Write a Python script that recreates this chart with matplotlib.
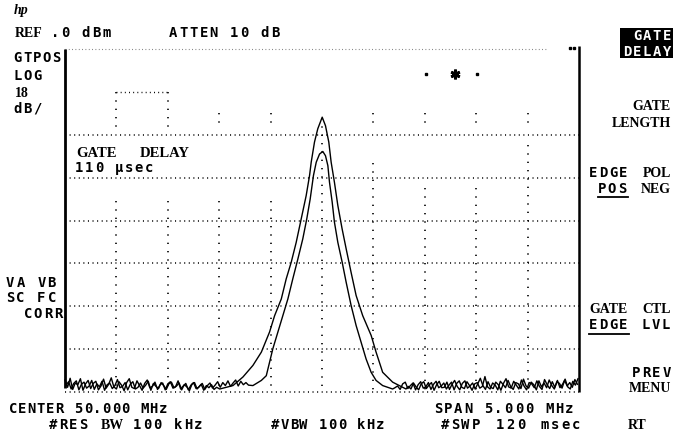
import numpy as np
import matplotlib
matplotlib.use("Agg")
import matplotlib.pyplot as plt
from matplotlib.lines import Line2D
from matplotlib.patches import Rectangle

center_mhz = 50.0
span_mhz = 5.0
ref_db = 0.0
bottom_db = -80.0

sweep_step = 0.025  # MHz between displayed sweep points in the noise floor

# outer (higher) trace
outer_left_start = 47.50
outer_left_db = [-77.2, -78.9, -76.8, -79.4, -77.9, -78.3, -76.9, -79.6, -78.1, -77.3,
                 -79.2, -78.0, -77.5, -79.5, -78.6, -77.0, -79.1, -78.2, -76.7, -78.8,
                 -79.3, -77.6, -78.4, -79.7, -77.8, -76.9, -78.9, -79.2, -77.4, -78.5,
                 -79.6, -78.0, -77.2, -79.0, -78.7, -77.7, -79.4, -78.3, -77.9, -79.5,
                 -78.1, -77.6, -79.1, -78.8, -77.4, -79.3, -78.6, -78.0, -79.5, -78.4,
                 -77.8, -79.2, -78.9, -78.2, -79.6, -78.5, -79.0, -78.3, -79.4, -78.9]
outer_peak_f = [49.005, 49.134, 49.231, 49.328, 49.410, 49.490, 49.539, 49.604, 49.652,
                49.701, 49.749, 49.798, 49.846, 49.879, 49.895, 49.927, 49.959, 50.002,
                50.034, 50.066, 50.089, 50.121, 50.154, 50.196, 50.235, 50.283, 50.332,
                50.396, 50.478, 50.526, 50.590, 50.687, 50.817]
outer_peak_db = [-79.3, -78.5, -76.5, -73.8, -70.7, -66.0, -62.2, -58.3, -53.6,
                 -49.7, -45.1, -39.6, -34.2, -29.5, -26.4, -21.7, -18.6, -15.9,
                 -17.9, -21.7, -26.4, -31.1, -36.5, -42.0, -46.6, -52.1, -57.5,
                 -62.2, -66.8, -70.7, -75.4, -77.7, -79.3]
outer_right_start = 50.84
outer_right_db = [-78.7, -79.3, -77.9, -78.8, -79.5, -78.1, -77.6, -79.2, -78.4, -77.8,
                  -79.6, -78.3, -77.5, -79.0, -78.9, -77.7, -79.4, -78.2, -77.3, -78.7,
                  -79.5, -78.0, -77.4, -79.1, -78.6, -77.9, -79.3, -78.1, -76.8, -78.5,
                  -79.4, -77.6, -78.9, -79.2, -77.7, -78.3, -79.6, -78.0, -76.9, -78.8,
                  -79.1, -77.5, -78.4, -79.3, -77.2, -78.6, -79.5, -77.8, -78.1, -79.0,
                  -77.4, -78.7, -79.4, -77.1, -78.3, -79.2, -77.6, -78.9, -77.3, -79.0,
                  -78.2, -77.0, -78.8, -79.3, -77.5, -78.4, -76.9]

# inner (lower) trace
inner_left_start = 47.51
inner_left_db = [-78.4, -77.6, -79.3, -78.0, -77.4, -79.5, -78.2, -77.7, -79.1, -78.6,
                 -77.3, -79.4, -78.1, -78.8, -77.5, -79.6, -78.3, -77.9, -79.2, -78.5,
                 -77.1, -79.0, -78.7, -77.8, -79.5, -78.2, -77.6, -79.3, -78.9, -77.9,
                 -79.1, -78.4, -77.5, -79.6, -78.0, -78.7, -79.2, -77.8, -78.5, -79.4,
                 -78.1, -77.7, -79.0, -78.6, -77.9, -79.5, -78.3, -78.8, -79.7, -78.2,
                 -77.8, -79.3, -78.6, -78.0, -79.4, -78.5, -77.9, -79.1, -78.4, -77.6,
                 -78.9, -77.8, -78.5, -77.4, -78.7, -77.9, -77.2, -78.6, -77.5, -78.3,
                 -77.8, -78.4]
inner_peak_f = [49.328, 49.410, 49.458, 49.490, 49.522, 49.571, 49.619, 49.668, 49.716,
                49.765, 49.813, 49.852, 49.885, 49.917, 49.944, 49.976, 50.008, 50.034,
                50.057, 50.073, 50.099, 50.121, 50.154, 50.196, 50.235, 50.283, 50.332,
                50.381, 50.429, 50.478, 50.526, 50.590, 50.687]
inner_peak_db = [-78.5, -77.3, -76.2, -73.0, -69.9, -66.0, -62.2, -58.3, -53.6,
                 -49.0, -44.3, -39.6, -35.0, -29.5, -26.4, -24.5, -23.9, -24.9,
                 -27.2, -31.1, -35.7, -40.4, -45.1, -49.7, -54.4, -59.8, -64.5,
                 -68.4, -72.3, -75.4, -77.3, -78.5, -79.3]
inner_right_start = 50.71
inner_right_db = [-79.0, -78.6, -79.4, -78.1, -77.7, -79.2, -78.5, -77.9, -79.5, -78.3,
                  -77.6, -79.1, -78.8, -77.8, -79.4, -78.2, -77.5, -79.0, -78.6, -77.9,
                  -79.3, -78.4, -77.7, -79.5, -78.0, -77.4, -78.9, -79.2, -77.6, -78.5,
                  -79.6, -78.1, -77.8, -79.1, -78.7, -76.4, -78.8, -79.3, -77.9, -78.4,
                  -79.5, -77.5, -78.2, -79.0, -77.3, -78.7, -79.4, -77.8, -78.1, -79.2,
                  -77.0, -78.6, -79.1, -77.7, -78.3, -79.5, -77.4, -78.8, -77.9, -79.0,
                  -77.2, -78.5, -79.3, -77.6, -78.0, -79.1, -77.3, -78.6, -77.8, -78.9,
                  -77.1, -78.2]

# marker
marker_f = [51.29]
marker_db = [-5.8]
marker_dots_f = [51.01, 51.51]
marker_dots_db = [-5.8, -5.8]

# graticule pieces as drawn on the screen
grid_rows = [-20, -30, -40, -50, -60, -70, -80]
grid_cols = [48.0, 48.5, 49.0, 49.5, 50.0, 50.5, 51.0, 51.5, 52.0]
col_low_top = [-35.5, -35.5, -35.5, -35.5, -16.0, -26.5, -32.5, -32.5, -22.5]
col_short_top = [-10.0, -10.0, -15.0, -15.0, None, -15.0, -15.0, -15.0, -15.0]
col_short_bot = -18.6
top_line_end = 52.18
box_row_db = -10.0
box_f = [48.0, 48.5]

# ---------------- figure ----------------
W, H = 674, 439
fig = plt.figure(figsize=(W / 100, H / 100), dpi=100)
fig.patch.set_facecolor("white")
L, R, T, B = 65, 579, 50, 393
ax = fig.add_axes([L / W, 1 - B / H, (R - L) / W, (B - T) / H])
f0, f1 = center_mhz - span_mhz / 2, center_mhz + span_mhz / 2
ax.set_xlim(f0, f1)
ax.set_ylim(bottom_db, ref_db)
ax.axis("off")

hdot = (0, (0.7, 2.3))
vdot = (0, (0.8, 4.2))
for r in grid_rows:
    ax.plot([f0, f1], [r, r], color="black", lw=1.1, ls=hdot, clip_on=False)
ax.plot([f0, top_line_end], [ref_db, ref_db], color="#666666", lw=0.8, ls=hdot, clip_on=False)
ax.plot(box_f, [box_row_db, box_row_db], color="black", lw=1.0, ls=hdot)
for c, lo, st in zip(grid_cols, col_low_top, col_short_top):
    ax.plot([c, c], [lo, bottom_db], color="black", lw=1.2, ls=vdot, clip_on=False)
    if st is not None:
        ax.plot([c, c], [st, col_short_bot], color="black", lw=1.2, ls=vdot)

# frame (solid verticals)
ax.plot([f0, f0], [ref_db, -79.0], color="black", lw=2.0, clip_on=False, solid_capstyle="butt")
ax.plot([f1, f1], [0.6, bottom_db], color="black", lw=1.8, clip_on=False, solid_capstyle="butt")
ax.plot([52.41, 52.45], [0.3, 0.3], ls="none", marker="s", ms=1.6, color="black", clip_on=False)

# traces
def build(ls, lvals, pf, pdb, rs, rvals):
    lf = ls + sweep_step * np.arange(len(lvals))
    rf = rs + sweep_step * np.arange(len(rvals))
    f = np.concatenate([lf, pf, rf])
    d = np.concatenate([lvals, pdb, rvals])
    return f, d

fo, do = build(outer_left_start, outer_left_db, outer_peak_f, outer_peak_db,
               outer_right_start, outer_right_db)
fi, di = build(inner_left_start, inner_left_db, inner_peak_f, inner_peak_db,
               inner_right_start, inner_right_db)
ax.plot(fo, do, color="black", lw=1.0, clip_on=False)
ax.plot(fi, di, color="black", lw=1.0, clip_on=False)

# marker
ax.plot(marker_f, marker_db, ls="none", marker=(6, 2, 0), ms=7, mew=2, color="black")
ax.plot(marker_dots_f, marker_dots_db, ls="none", marker="s", ms=1.5, color="black")

# ---------------- text ----------------
MONO = "DejaVu Sans Mono"
SERIF = "Liberation Serif"

def mono(x, y, s, pitch=9.8, size=10, color="black", right=None):
    if right is not None:
        x = right - len(s) * pitch
    for i, ch in enumerate(s):
        if ch != " ":
            fig.text((x + i * pitch + pitch / 2) / W, 1 - y / H, ch, ha="center",
                     va="baseline", family=MONO, fontsize=size, color=color,
                     weight="bold")

def serif(x, y, s, size=10, ha="left", color="black"):
    fig.text(x / W, 1 - y / H, s, ha=ha, va="baseline", family=SERIF,
             weight="bold", fontsize=size, color=color)

def uline(x0, x1, y, lw=1.3):
    fig.add_artist(Line2D([x0 / W, x1 / W], [1 - y / H, 1 - y / H],
                          color="black", lw=lw))

fig.text(14 / W, 1 - 14 / H, "hp", ha="left", va="baseline", family=SERIF,
         style="italic", weight="bold", fontsize=10)
serif(15, 37, "REF", size=10)
mono(50, 37, ".0 dBm", pitch=10.3)
mono(168, 37, "ATTEN 10 dB", pitch=10.2)

mono(13, 62, "GTPOS", pitch=9.6)
mono(13, 80, "LOG", pitch=9.6)
serif(15, 97, "18", size=10)
mono(13, 113, "dB/", pitch=9.6)

serif(76, 157, "GATE", size=10.5)
serif(140, 157, "DELAY", size=10.5)
mono(74, 172, "110 μsec", pitch=10.0)

mono(5, 287, "VA VB", pitch=10.4)
mono(5, 302, "SC FC", pitch=10.4)
mono(0, 318, "CORR", pitch=10.0, right=63)

mono(8, 413, "CENTER 50.000 MHz", pitch=9.4)
mono(433, 413, "SPAN 5.000 MHz", pitch=10.1)
mono(48, 429, "#RES", pitch=10.2)
serif(101, 429, "BW", size=10)
mono(132, 429, "100 kHz", pitch=10.2)
mono(270, 429, "#VBW 100 kHz", pitch=9.6)
mono(440, 429, "#SWP", pitch=10.2)
mono(495, 429, "120", pitch=10.4)
mono(540, 429, "msec", pitch=10.2)
serif(628, 429, "RT", size=10)

# softkeys
fig.add_artist(Rectangle((620 / W, 1 - 59 / H), 53 / W, 30 / H, transform=fig.transFigure,
                         facecolor="black", edgecolor="none"))
mono(0, 40, "GATE", pitch=10.0, right=672, color="white")
mono(0, 56, "DELAY", pitch=10.0, right=672, color="white")

serif(671, 110, "GATE", size=10, ha="right")
serif(671, 127, "LENGTH", size=10, ha="right")

mono(588, 177, "EDGE", pitch=10.0)
serif(671, 177, "POL", size=10, ha="right")
mono(597, 193, "POS", pitch=10.0)
uline(598, 628, 198)
serif(671, 193, "NEG", size=10, ha="right")

serif(589, 313, "GATE", size=10)
serif(671, 313, "CTL", size=10, ha="right")
mono(588, 329, "EDGE", pitch=10.0)
uline(589, 629, 335)
mono(0, 329, "LVL", pitch=10.0, right=671)

mono(0, 377, "PREV", pitch=10.3, right=672)
serif(671, 392, "MENU", size=10, ha="right")

fig.savefig("out.png", dpi=100, facecolor="white")
